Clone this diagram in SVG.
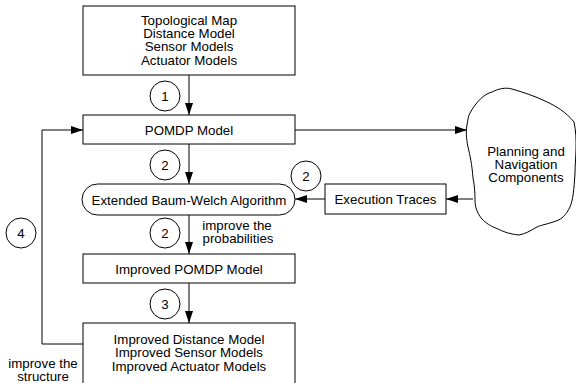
<svg xmlns="http://www.w3.org/2000/svg" width="576" height="383" viewBox="0 0 576 383">
<defs>
<style>
text{font-family:"Liberation Sans",Arial,sans-serif;font-size:13.3px;fill:#000;text-anchor:middle}
.box{fill:#fff;stroke:#000;stroke-width:1}
.c{fill:#fff;stroke:#000;stroke-width:1}
.ln{fill:none;stroke:#000;stroke-width:1}
</style>
<marker id="ah" markerWidth="12" markerHeight="8" refX="12" refY="4" orient="auto" markerUnits="userSpaceOnUse">
<path d="M0,0 L12,4 L0,8 Z" fill="#000"/>
</marker>
</defs>
<rect width="576" height="383" fill="#fff"/>
<g id="connectors">
<path class="ln" d="M189,75 V115" marker-end="url(#ah)"/>
<path class="ln" d="M189,144 V184" marker-end="url(#ah)"/>
<path class="ln" d="M189,215 V254" marker-end="url(#ah)"/>
<path class="ln" d="M189,283 V323" marker-end="url(#ah)"/>
<path class="ln" d="M83,344 H42 V130 H83" marker-end="url(#ah)"/>
<path class="ln" d="M295,130 H467" marker-end="url(#ah)"/>
<path class="ln" d="M473,199 H446" marker-end="url(#ah)"/>
<path class="ln" d="M325,199 H295" marker-end="url(#ah)"/>
</g>
<g id="models">
<rect class="box" x="83" y="6" width="212" height="69"/>
<text x="189" y="24.8">Topological Map</text>
<text x="189" y="38.1">Distance Model</text>
<text x="189" y="51.4">Sensor Models</text>
<text x="189" y="64.7">Actuator Models</text>
</g>
<g id="pomdp">
<rect class="box" x="83" y="115" width="212" height="29"/>
<text x="189" y="134.5">POMDP Model</text>
</g>
<g id="baumwelch">
<rect class="box" x="82" y="184" width="213" height="31" rx="15.5" ry="15.5"/>
<text x="189" y="204.5">Extended Baum-Welch Algorithm</text>
</g>
<g id="improved-pomdp">
<rect class="box" x="83" y="254" width="212" height="29"/>
<text x="189" y="273.5">Improved POMDP Model</text>
</g>
<g id="improved-models">
<rect class="box" x="83" y="323" width="212" height="70"/>
<text x="189" y="343.5">Improved Distance Model</text>
<text x="189" y="357">Improved Sensor Models</text>
<text x="189" y="370.5">Improved Actuator Models</text>
</g>
<g id="traces">
<rect class="box" x="325" y="184" width="121" height="30"/>
<text x="385.5" y="204">Execution Traces</text>
</g>
<g id="planning">
<path class="box" d="M470,113 C476,102 484,94 492,92 C498,89 505,87 512,89 C522,92 535,96 545,101 C556,106 566,112 574,122 C578,140 575,160 575,173 C574,190 573,200 570,207 C566,215 562,219 556,221 C548,224 541,225 537,227 C530,231 525,234 519,235 C510,234 504,232 498,229 C490,226 486,223 482,219 C477,213 475,207 475,200 C475,190 474,183 473,178 C472,165 470,155 468,147 C466,138 466,130 467,125 C468,120 468,116 470,113 Z"/>
<text x="526" y="155.5">Planning and</text>
<text x="526" y="168.5">Navigation</text>
<text x="526" y="181.5">Components</text>
</g>
<g id="labels">
<circle class="c" cx="165" cy="96" r="15"/><text x="165" y="100.8">1</text>
<circle class="c" cx="165" cy="165" r="15"/><text x="165" y="169.8">2</text>
<circle class="c" cx="306" cy="176" r="15"/><text x="306" y="180.8">2</text>
<circle class="c" cx="165" cy="233" r="15"/><text x="165" y="237.8">2</text>
<circle class="c" cx="165" cy="304" r="15"/><text x="165" y="308.8">3</text>
<circle class="c" cx="21" cy="233" r="15"/><text x="21" y="237.8">4</text>
<text x="237" y="229.5">improve the</text>
<text x="238" y="243">probabilities</text>
<text x="43" y="367.5">improve the</text>
<text x="43" y="381">structure</text>
</g>
</svg>
